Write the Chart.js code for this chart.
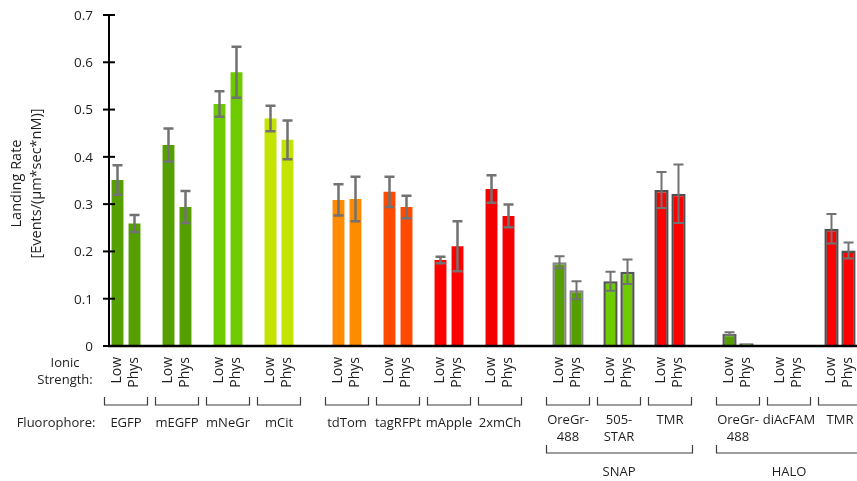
<!DOCTYPE html>
<html>
<head>
<meta charset="utf-8">
<script src="https://cdn.jsdelivr.net/npm/chart.js@4/dist/chart.umd.min.js"></script>
<style>
html,body{margin:0;padding:0;background:#fff;}
#wrap{width:857px;height:481px;position:relative;}
</style>
</head>
<body>
<div id="wrap"><canvas id="c" width="857" height="481"></canvas></div>
<script>
// ---- data ----
const fluorophores = [['EGFP'],['mEGFP'],['mNeGr'],['mCit'],['tdTom'],['tagRFPt'],['mApple'],['2xmCh'],
  ['OreGr-','488'],['505-','STAR'],['TMR'],['OreGr-','488'],['diAcFAM'],['TMR']];
const conditions = ['Low','Phys'];
const lowValues  = [0.351,0.425,0.512,0.481,0.309,0.326,0.182,0.332,0.177,0.137,0.330,0.026,0,0.248];
const physValues = [0.259,0.294,0.579,0.436,0.311,0.294,0.211,0.275,0.118,0.157,0.322,0.006,0,0.202];
const lowErr  = [0.031,0.035,0.027,0.027,0.033,0.032,0.007,0.029,0.013,0.020,0.038,0.003,null,0.031];
const physErr = [0.018,0.034,0.054,0.041,0.047,0.024,0.053,0.024,0.019,0.026,0.062,null,null,0.017];
const tagGroups = [{name:'SNAP', first:8, last:10},{name:'HALO', first:11, last:13}];
const yTicks = [0,0.1,0.2,0.3,0.4,0.5,0.6,0.7];
const yTitle = ['Landing Rate','[Events/(µm*sec*nM)]'];
const rowLabels = {ionic:['Ionic','Strength:'], fluor:'Fluorophore:'};
// ---- styles ----
const gapsAfter = [1,1,1,2,1,1,1,2,1,1,2,1,1,0];
const fillColors = ['#55a000','#55a000','#6dcb00','#c3e300','#ff8b00','#ff4a00','#ff0000','#f40000',
  '#55a000','#6dcb00','#ff0000','#55a000','#55a000','#ff0000'];
const borderColors = [null,null,null,null,null,null,null,null,
  '#868686','#555555','#505050','#5a5a5a','#505050','#505050'];
const FONT = '"Open Sans", "Noto Sans", sans-serif';
const TXT = '#1e1e1e';

// build slots
const labels = [], plainData = [], borderData = [], plainBg = [], borderBg = [], borderBd = [];
const errArr = [], pairSlots = [];
fluorophores.forEach((f, i) => {
  const start = labels.length;
  [lowValues[i], physValues[i]].forEach((v, k) => {
    labels.push(conditions[k]);
    const bordered = borderColors[i] !== null;
    plainData.push(bordered ? null : v);
    borderData.push(bordered ? v : null);
    plainBg.push(fillColors[i]); borderBg.push(fillColors[i]);
    borderBd.push(borderColors[i] || 'rgba(0,0,0,0)');
    errArr.push({v:v, e:(k===0?lowErr[i]:physErr[i]), bordered:bordered});
  });
  pairSlots.push([start, start+1]);
  for (let g = 0; g < gapsAfter[i]; g++) { labels.push(''); plainData.push(null); borderData.push(null);
    plainBg.push('#fff'); borderBg.push('#fff'); borderBd.push('#fff'); errArr.push(null); }
});

const decor = {
  id:'decor',
  afterDatasetsDraw(chart){
    const ctx = chart.ctx, xs = chart.scales.x, ys = chart.scales.y;
    ctx.save();
    // error bars
    errArr.forEach((d, i) => {
      if (!d || d.e == null) return;
      const x = xs.getPixelForValue(i);
      const y1 = ys.getPixelForValue(d.v + d.e), y2 = ys.getPixelForValue(Math.max(0, d.v - d.e));
      ctx.strokeStyle = '#727272';
      ctx.lineWidth = d.bordered ? 2 : 2.5;
      ctx.beginPath();
      ctx.moveTo(x, y1); ctx.lineTo(x, y2);
      ctx.moveTo(x-5, y1); ctx.lineTo(x+5, y1);
      ctx.moveTo(x-5, y2); ctx.lineTo(x+5, y2);
      ctx.stroke();
    });
    // axes
    const y0 = ys.getPixelForValue(0), yTop = ys.getPixelForValue(yTicks[yTicks.length-1]);
    const ax = chart.chartArea.left;
    ctx.strokeStyle = '#000';
    ctx.lineWidth = 2.5;
    ctx.beginPath(); ctx.moveTo(ax-1, y0); ctx.lineTo(chart.width, y0); ctx.stroke();
    ctx.lineWidth = 2;
    ctx.beginPath(); ctx.moveTo(ax, yTop); ctx.lineTo(ax, y0); ctx.stroke();
    ctx.font = '13.5px ' + FONT; ctx.fillStyle = TXT;
    ctx.textAlign = 'right'; ctx.textBaseline = 'middle';
    yTicks.forEach(t => {
      const y = ys.getPixelForValue(t);
      ctx.beginPath(); ctx.moveTo(ax-6, y); ctx.lineTo(ax+6, y); ctx.stroke();
      ctx.fillText(String(t), ax-16, y+1);
    });
    // y title
    ctx.save();
    ctx.font = '14.5px ' + FONT; ctx.textAlign = 'center';
    const yMid = (y0 + yTop)/2 + 3;
    [[17, yTitle[0]],[37, yTitle[1]]].forEach(([x, s]) => {
      ctx.save(); ctx.translate(x, yMid); ctx.rotate(-Math.PI/2); ctx.fillText(s, 0, 0); ctx.restore();
    });
    ctx.restore();
    // condition labels (rotated)
    ctx.font = '14px ' + FONT; ctx.textAlign = 'right'; ctx.textBaseline = 'middle';
    labels.forEach((l, i) => {
      if (!l) return;
      const x = xs.getPixelForValue(i);
      ctx.save(); ctx.translate(x, y0 + 11); ctx.rotate(-Math.PI/2); ctx.fillText(l, 0, 0); ctx.restore();
    });
    // row labels
    ctx.font = '13px ' + FONT; ctx.textAlign = 'center';
    ctx.fillText(rowLabels.ionic[0], 65, y0 + 17);
    ctx.fillText(rowLabels.ionic[1], 65, y0 + 34);
    ctx.fillText(rowLabels.fluor, 56, y0 + 77);
    // pair brackets + fluorophore labels
    ctx.strokeStyle = '#3c3c3c'; ctx.lineWidth = 1.2;
    pairSlots.forEach((p, i) => {
      const cx = (xs.getPixelForValue(p[0]) + xs.getPixelForValue(p[1]))/2;
      const bx1 = cx - 21.5, bx2 = cx + 21.5, by = y0 + 59;
      ctx.beginPath(); ctx.moveTo(bx1, by-8); ctx.lineTo(bx1, by); ctx.lineTo(bx2, by); ctx.lineTo(bx2, by-8); ctx.stroke();
      const base = i >= 8 ? y0 + 74 : y0 + 77;
      fluorophores[i].forEach((s, k) => ctx.fillText(s, cx, base + k*17));
    });
    // tag brackets
    tagGroups.forEach(g => {
      const x1 = xs.getPixelForValue(pairSlots[g.first][0]) - 13;
      const x2 = xs.getPixelForValue(pairSlots[g.last][1]) + 14;
      const by = y0 + 107;
      ctx.beginPath(); ctx.moveTo(x1, by-8); ctx.lineTo(x1, by); ctx.lineTo(x2, by); ctx.lineTo(x2, by-8); ctx.stroke();
      const cx = (xs.getPixelForValue(pairSlots[g.first][0]) + xs.getPixelForValue(pairSlots[g.last][1]))/2;
      ctx.fillText(g.name, cx, y0 + 126);
    });
    ctx.restore();
  }
};

new Chart(document.getElementById('c'), {
  type:'bar',
  data:{
    labels: labels,
    datasets:[
      {data: plainData, backgroundColor: plainBg, borderWidth:0, barPercentage:0.7, categoryPercentage:1, grouped:false},
      {data: borderData, backgroundColor: borderBg, borderColor: borderBd, borderWidth:2.5, barPercentage:0.84, categoryPercentage:1, grouped:false}
    ]
  },
  options:{
    responsive:false, animation:false,
    layout:{padding:{left:109, right:0, top:15, bottom:135}},
    plugins:{legend:{display:false}, tooltip:{enabled:false}},
    scales:{
      x:{display:false, offset:true},
      y:{display:false, min:0, max:0.7}
    }
  },
  plugins:[decor]
});
</script>
</body>
</html>
